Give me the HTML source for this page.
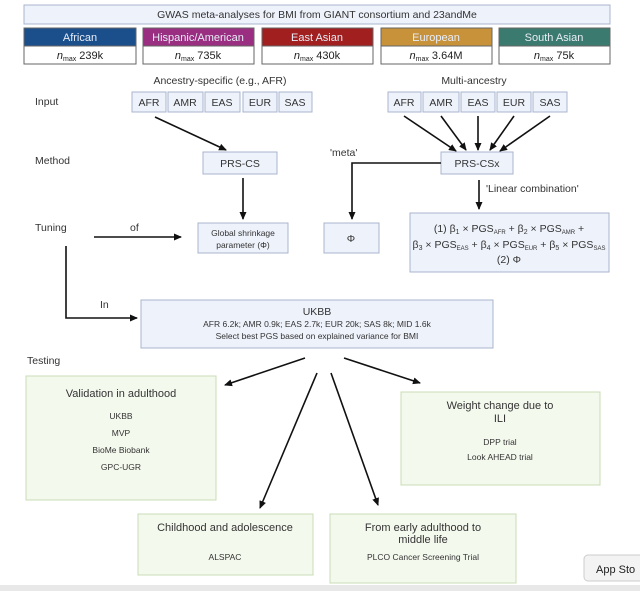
<!DOCTYPE html>
<html><head><meta charset="utf-8"><style>
body{margin:0;background:#fff;}
svg{display:block;font-family:"Liberation Sans",sans-serif;}
</style></head><body>
<svg width="640" height="591" viewBox="0 0 640 591" xmlns="http://www.w3.org/2000/svg">
<defs><marker id="a" markerWidth="8" markerHeight="8" refX="7" refY="4" orient="auto" markerUnits="userSpaceOnUse"><path d="M0,0.5 L8,4 L0,7.5 z" fill="#111"/></marker></defs>
<rect x="0" y="0" width="640" height="591" fill="#fff"/>
<g fill="#eef2fb" stroke="#a9b4cc" stroke-width="1">
<rect x="24" y="5" width="586" height="19"/>
</g>
<text x="317" y="18" font-size="10.5" text-anchor="middle" fill="#333">GWAS meta-analyses for BMI from GIANT consortium and 23andMe</text>
<g stroke="#666" stroke-width="1">
<rect x="24" y="28" width="112" height="18" fill="#1b4f8c"/>
<rect x="143" y="28" width="111" height="18" fill="#9a2e80"/>
<rect x="262" y="28" width="111" height="18" fill="#a1201f"/>
<rect x="381" y="28" width="111" height="18" fill="#c8923b"/>
<rect x="499" y="28" width="111" height="18" fill="#3b7a6e"/>
<rect x="24" y="46" width="112" height="18" fill="#fff"/>
<rect x="143" y="46" width="111" height="18" fill="#fff"/>
<rect x="262" y="46" width="111" height="18" fill="#fff"/>
<rect x="381" y="46" width="111" height="18" fill="#fff"/>
<rect x="499" y="46" width="111" height="18" fill="#fff"/>
</g>
<g font-size="11" text-anchor="middle" fill="#e8eef8">
<text x="80" y="41">African</text><text x="198" y="41">Hispanic/American</text><text x="317" y="41">East Asian</text><text x="436" y="41">European</text><text x="554" y="41">South Asian</text>
</g>
<g font-size="11" text-anchor="middle" fill="#222">
<text x="80" y="59"><tspan font-style="italic">n</tspan><tspan font-size="7" dy="2">max</tspan><tspan dy="-2"> 239k</tspan></text>
<text x="198" y="59"><tspan font-style="italic">n</tspan><tspan font-size="7" dy="2">max</tspan><tspan dy="-2"> 735k</tspan></text>
<text x="317" y="59"><tspan font-style="italic">n</tspan><tspan font-size="7" dy="2">max</tspan><tspan dy="-2"> 430k</tspan></text>
<text x="436" y="59"><tspan font-style="italic">n</tspan><tspan font-size="7" dy="2">max</tspan><tspan dy="-2"> 3.64M</tspan></text>
<text x="554" y="59"><tspan font-style="italic">n</tspan><tspan font-size="7" dy="2">max</tspan><tspan dy="-2"> 75k</tspan></text>
</g>
<g font-size="10.5" fill="#333">
<text x="220" y="84" text-anchor="middle">Ancestry-specific (e.g., AFR)</text>
<text x="474" y="84" text-anchor="middle">Multi-ancestry</text>
<text x="35" y="105">Input</text>
<text x="35" y="164">Method</text>
<text x="35" y="231">Tuning</text>
<text x="130" y="231">of</text>
<text x="100" y="308">In</text>
<text x="27" y="364">Testing</text>
<text x="330" y="156">'meta'</text>
<text x="486" y="192">'Linear combination'</text>
</g>
<g fill="#eef2fb" stroke="#a9b4cc">
<rect x="132" y="92" width="34" height="20"/><rect x="168" y="92" width="35" height="20"/><rect x="205" y="92" width="35" height="20"/><rect x="243" y="92" width="34" height="20"/><rect x="279" y="92" width="33" height="20"/>
<rect x="388" y="92" width="33" height="20"/><rect x="423" y="92" width="36" height="20"/><rect x="461" y="92" width="34" height="20"/><rect x="497" y="92" width="34" height="20"/><rect x="533" y="92" width="34" height="20"/>
<rect x="203" y="152" width="74" height="22"/><rect x="441" y="152" width="72" height="22"/>
<rect x="198" y="223" width="90" height="30"/><rect x="324" y="223" width="55" height="30"/>
<rect x="410" y="213" width="199" height="59"/>
<rect x="141" y="300" width="352" height="48"/>
</g>
<g font-size="10.5" text-anchor="middle" fill="#333">
<text x="149" y="106">AFR</text><text x="185" y="106">AMR</text><text x="222" y="106">EAS</text><text x="260" y="106">EUR</text><text x="295" y="106">SAS</text>
<text x="404" y="106">AFR</text><text x="441" y="106">AMR</text><text x="478" y="106">EAS</text><text x="514" y="106">EUR</text><text x="550" y="106">SAS</text>
<text x="240" y="167">PRS-CS</text><text x="477" y="167">PRS-CSx</text>
<text x="243" y="236" font-size="8.5">Global shrinkage</text><text x="243" y="248" font-size="8.5">parameter (Φ)</text>
<text x="351" y="242">Φ</text>
<text x="509" y="232">(1) β<tspan font-size="7" dy="2">1</tspan><tspan dy="-2"> × PGS</tspan><tspan font-size="6" dy="2">AFR</tspan><tspan dy="-2"> + β</tspan><tspan font-size="7" dy="2">2</tspan><tspan dy="-2"> × PGS</tspan><tspan font-size="6" dy="2">AMR</tspan><tspan dy="-2"> +</tspan></text>
<text x="509" y="248">β<tspan font-size="7" dy="2">3</tspan><tspan dy="-2"> × PGS</tspan><tspan font-size="6" dy="2">EAS</tspan><tspan dy="-2"> + β</tspan><tspan font-size="7" dy="2">4</tspan><tspan dy="-2"> × PGS</tspan><tspan font-size="6" dy="2">EUR</tspan><tspan dy="-2"> + β</tspan><tspan font-size="7" dy="2">5</tspan><tspan dy="-2"> × PGS</tspan><tspan font-size="6" dy="2">SAS</tspan></text>
<text x="509" y="263">(2) Φ</text>
<text x="317" y="315">UKBB</text>
<text x="317" y="327" font-size="8.5">AFR 6.2k; AMR 0.9k; EAS 2.7k; EUR 20k; SAS 8k; MID 1.6k</text>
<text x="317" y="339" font-size="8.5">Select best PGS based on explained variance for BMI</text>
</g>
<g fill="#f4f9ee" stroke="#c8dcb6">
<rect x="26" y="376" width="190" height="124"/>
<rect x="401" y="392" width="199" height="93"/>
<rect x="138" y="514" width="175" height="61"/>
<rect x="330" y="514" width="186" height="69"/>
</g>
<g text-anchor="middle" fill="#333">
<text x="121" y="397" font-size="11">Validation in adulthood</text>
<text x="121" y="419" font-size="8.5">UKBB</text><text x="121" y="436" font-size="8.5">MVP</text><text x="121" y="453" font-size="8.5">BioMe Biobank</text><text x="121" y="470" font-size="8.5">GPC-UGR</text>
<text x="500" y="409" font-size="11">Weight change due to</text><text x="500" y="422" font-size="11">ILI</text>
<text x="500" y="445" font-size="8.5">DPP trial</text><text x="500" y="460" font-size="8.5">Look AHEAD trial</text>
<text x="225" y="531" font-size="11">Childhood and adolescence</text><text x="225" y="560" font-size="8.5">ALSPAC</text>
<text x="423" y="531" font-size="11">From early adulthood to</text><text x="423" y="543" font-size="11">middle life</text><text x="423" y="560" font-size="8.5">PLCO Cancer Screening Trial</text>
</g>
<g stroke="#111" stroke-width="1.6" fill="none" marker-end="url(#a)">
<path d="M155 117 L226 150"/>
<path d="M404 116 L456 151"/><path d="M441 116 L466 150"/><path d="M478 116 L478 150"/><path d="M514 116 L490 150"/><path d="M550 116 L500 151"/>
<path d="M243 178 L243 219"/>
<path d="M441 163 L352 163 L352 219"/>
<path d="M479 180 L479 209"/>
<path d="M94 237 L181 237"/>
<path d="M66 246 L66 318 L137 318"/>
<path d="M305 358 L225 385"/>
<path d="M344 358 L420 383"/>
<path d="M317 373 L260 508"/>
<path d="M331 373 L378 505"/>
</g>
<rect x="584" y="555" width="60" height="26" rx="4" fill="#f3f3f3" stroke="#ccc"/>
<text x="596" y="573" font-size="11" fill="#222">App Sto</text>
<rect x="0" y="585" width="640" height="6" fill="#e8e8e8"/>
</svg>
</body></html>
